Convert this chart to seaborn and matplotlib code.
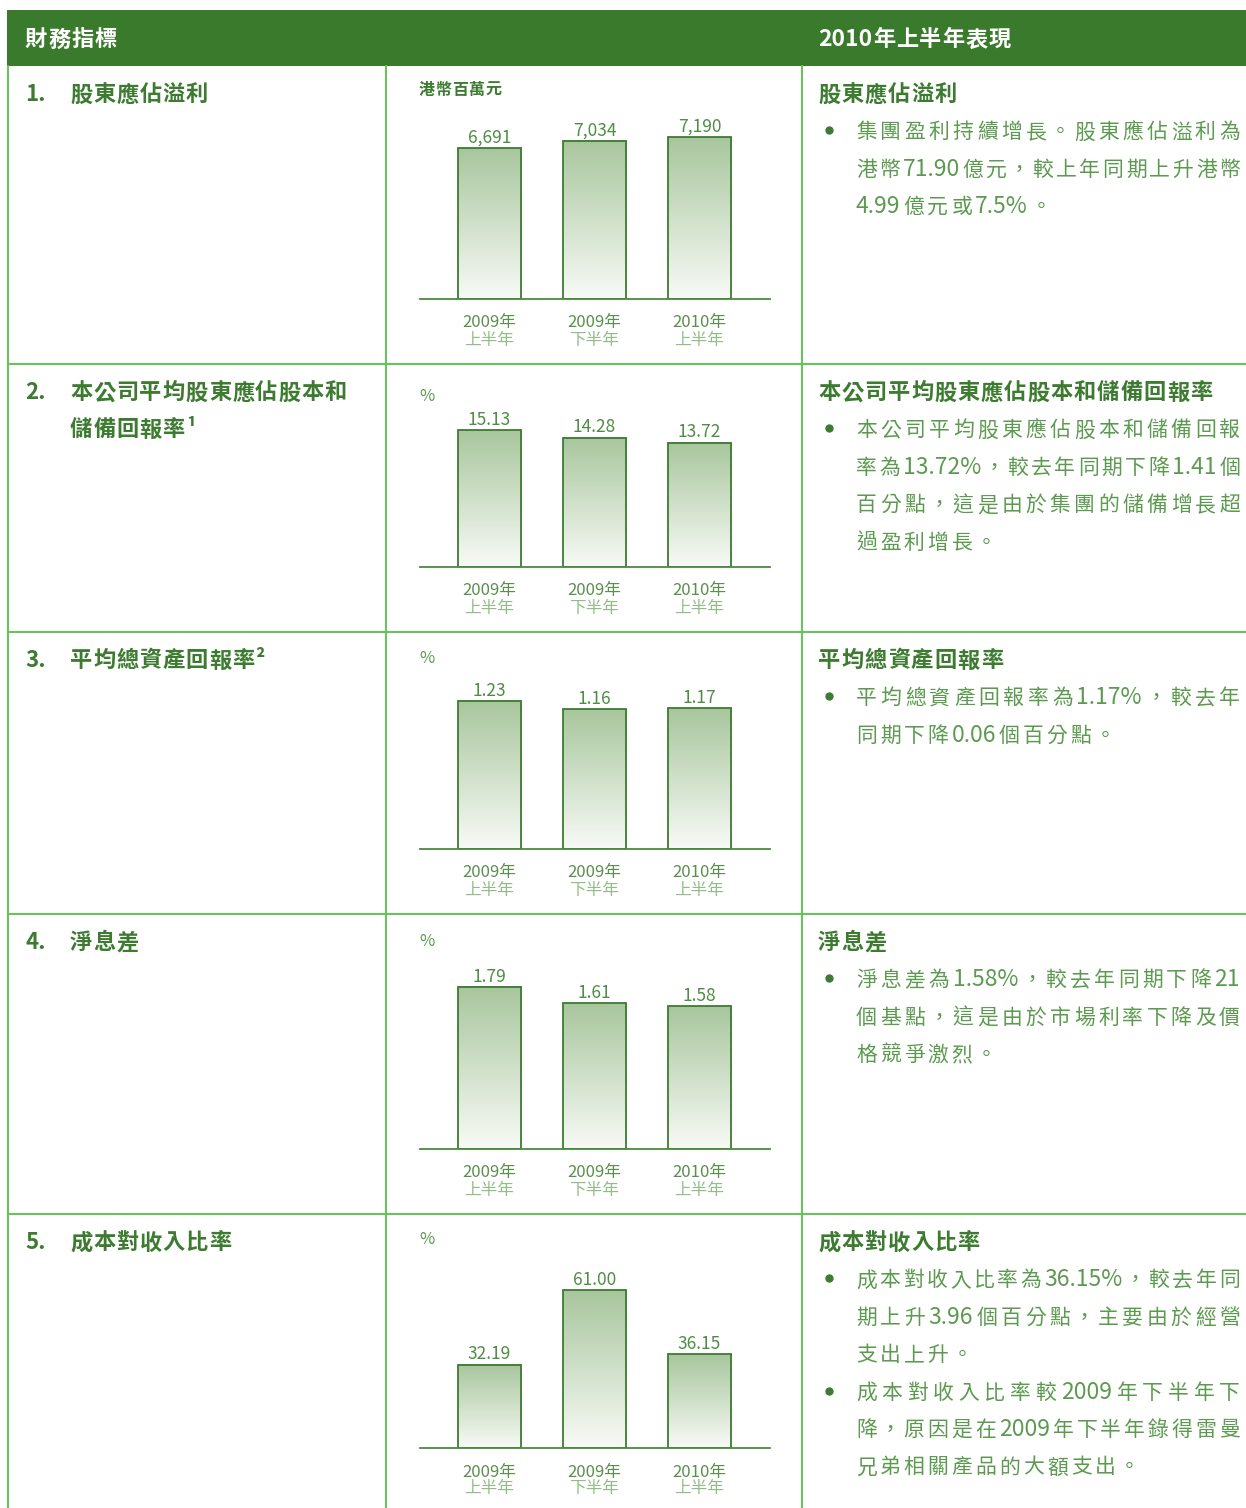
import re
import numpy as np
import pandas as pd
import matplotlib
matplotlib.use('Agg')
import matplotlib.pyplot as plt
from matplotlib.transforms import offset_copy
import seaborn as sns

# data
periods = ['2009年上半年', '2009年下半年', '2010年上半年']
years = ['2009年', '2009年', '2010年']
halves = ['上半年', '下半年', '上半年']

profit = [6691, 7034, 7190]
roe = [15.13, 14.28, 13.72]
roa = [1.23, 1.16, 1.17]
nim = [1.79, 1.61, 1.58]
cost_income = [32.19, 61.00, 36.15]
series = [profit, roe, roa, nim, cost_income]
label_fmt = ['{:,.0f}', '{:.2f}', '{:.2f}', '{:.2f}', '{:.2f}']
units = ['港幣百萬元', '%', '%', '%', '%']

header_left = '財務指標'
header_right = '2010年上半年表現'
numbers = ['1.', '2.', '3.', '4.', '5.']
left_titles = [['股東應佔溢利'],
               ['本公司平均股東應佔股本和', '儲備回報率¹'],
               ['平均總資產回報率²'],
               ['淨息差'],
               ['成本對收入比率']]
right_titles = ['股東應佔溢利', '本公司平均股東應佔股本和儲備回報率',
                '平均總資產回報率', '淨息差', '成本對收入比率']
bullets = [
    [['集團盈利持續增長。股東應佔溢利為', '港幣71.90億元，較上年同期上升港幣', '4.99億元或7.5%。']],
    [['本公司平均股東應佔股本和儲備回報', '率為13.72%，較去年同期下降1.41個',
      '百分點，這是由於集團的儲備增長超', '過盈利增長。']],
    [['平均總資產回報率為1.17%，較去年', '同期下降0.06個百分點。']],
    [['淨息差為1.58%，較去年同期下降21', '個基點，這是由於市場利率下降及價', '格競爭激烈。']],
    [['成本對收入比率為36.15%，較去年同', '期上升3.96個百分點，主要由於經營', '支出上升。'],
     ['成本對收入比率較2009年下半年下', '降，原因是在2009年下半年錄得雷曼', '兄弟相關產品的大額支出。']],
]

# layout (pixels)
W, H = 1246, 1508
row_tops = [66, 364, 632, 914, 1214]
baselines = [299, 567, 849, 1149, 1448]
bar_px = [162, 137, 148, 162, 158]
unit_y = [89, 395, 657, 940, 1238]

HEADER = '#3a7a2c'
BORDER = '#6cc15f'
DARK = '#3d7b31'
TEXT = '#5c9a50'
LIGHT = '#93bd88'

sns.set_style('white')
plt.rcParams['font.family'] = ['Noto Sans CJK TC', 'DejaVu Sans']

fig = plt.figure(figsize=(W / 100, H / 100), dpi=100)
bg = fig.add_axes([0, 0, 1, 1])
bg.set_xlim(0, W)
bg.set_ylim(H, 0)
bg.axis('off')


def em(pt):
    return pt * 100 / 72


def put(x, yc, s, size, color, weight='normal', ha='left'):
    return bg.text(x, yc + 0.38 * em(size), s, fontsize=size, color=color,
                   fontweight=weight, ha=ha, va='baseline')


TOKEN = re.compile(r'[A-Za-z0-9.,%]+|.')


def put_line(x0, yc, s, size, color, x1=None, gap=4.0, num_size=None, weight='normal'):
    num_size = num_size or size
    base = yc + 0.38 * em(size)
    toks = TOKEN.findall(s)
    arts = []
    for tk in toks:
        sz = num_size if tk.isascii() else size
        arts.append(bg.text(0, base, tk, fontsize=sz, color=color,
                            fontweight=weight, va='baseline'))
    r = fig.canvas.get_renderer()
    ws = [a.get_window_extent(r).width for a in arts]
    if x1 is not None and len(toks) > 1:
        gap = (x1 - x0 - sum(ws)) / (len(toks) - 1)
    x = x0
    for a, w in zip(arts, ws):
        a.set_x(x)
        x += w + gap


# header band and grid
bg.add_patch(plt.Rectangle((7, 10), W - 7, 56, color=HEADER, lw=0))
put_line(25, 38, header_left, 16, 'white', gap=0.8, weight='bold')
put_line(818, 38, header_right, 16, 'white', gap=0.8, num_size=16.5, weight='bold')
for x in [8, 386, 802]:
    bg.plot([x, x], [66, H], color=BORDER, lw=1.5)
for y in row_tops[1:]:
    bg.plot([8, W], [y, y], color=BORDER, lw=1.5)

# text columns
for i, top in enumerate(row_tops):
    ty = top + 27
    put(25, ty, numbers[i], 16, DARK, 'bold')
    for k, line in enumerate(left_titles[i]):
        put_line(70, ty + 37 * k, line, 16, DARK, gap=0.9, weight='bold')
    put_line(818, ty, right_titles[i], 16, DARK, gap=1.0, weight='bold')
    n = 1
    for para in bullets[i]:
        bg.plot(829, ty + 37.4 * n, 'o', ms=5, color=DARK)
        for k, line in enumerate(para):
            last = k == len(para) - 1
            put_line(856, ty + 37.4 * n, line, 15, TEXT,
                     None if last else 1240, gap=3.0, num_size=16.5)
            n += 1

# gradient for bars
top_c = np.array([168, 198, 157]) / 255
bot_c = np.array([248, 250, 246]) / 255
t = np.linspace(0, 1, 256)[:, None, None]
grad = top_c * (1 - t) + bot_c * t

for i, vals in enumerate(series):
    ah = 200
    ax = fig.add_axes([420 / W, 1 - baselines[i] / H, 350 / W, ah / H])
    df = pd.DataFrame({'period': periods, 'value': vals})
    sns.barplot(data=df, x='period', y='value', ax=ax, color=top_c, width=0.6,
                edgecolor=DARK, linewidth=1.3, saturation=1, errorbar=None)
    for p in ax.patches:
        x0, w, h = p.get_x(), p.get_width(), p.get_height()
        ax.imshow(grad, extent=[x0, x0 + w, 0, h], aspect='auto', zorder=1,
                  interpolation='bilinear')
        p.set_facecolor('none')
        p.set_zorder(2)
    ax.bar_label(ax.containers[0], labels=[label_fmt[i].format(v) for v in vals],
                 padding=1, fontsize=12.5, color='#4f8c44')
    ax.set_xlim(-0.662, 2.671)
    ax.set_ylim(0, max(vals) * ah / bar_px[i])
    ax.set_xticks([])
    ax.set_yticks([])
    ax.set_xlabel('')
    ax.set_ylabel('')
    ax.patch.set_alpha(0)
    sns.despine(ax=ax, left=True)
    ax.spines['bottom'].set_color('#4a8a3e')
    ax.spines['bottom'].set_linewidth(1.3)
    tr1 = offset_copy(ax.transData, fig=fig, y=-24, units='dots')
    tr2 = offset_copy(ax.transData, fig=fig, y=-41, units='dots')
    for j in range(len(vals)):
        ax.text(j, 0, years[j], transform=tr1, ha='center', va='center',
                fontsize=12, color='#5a8f4e')
        ax.text(j, 0, halves[j], transform=tr2, ha='center', va='center',
                fontsize=12, color=LIGHT)
    if i == 0:
        put_line(419, unit_y[i], units[i], 11.5, DARK, gap=0.5, weight='bold')
    else:
        put(419, unit_y[i], units[i], 12, TEXT)

fig.savefig('out.png', dpi=100)
